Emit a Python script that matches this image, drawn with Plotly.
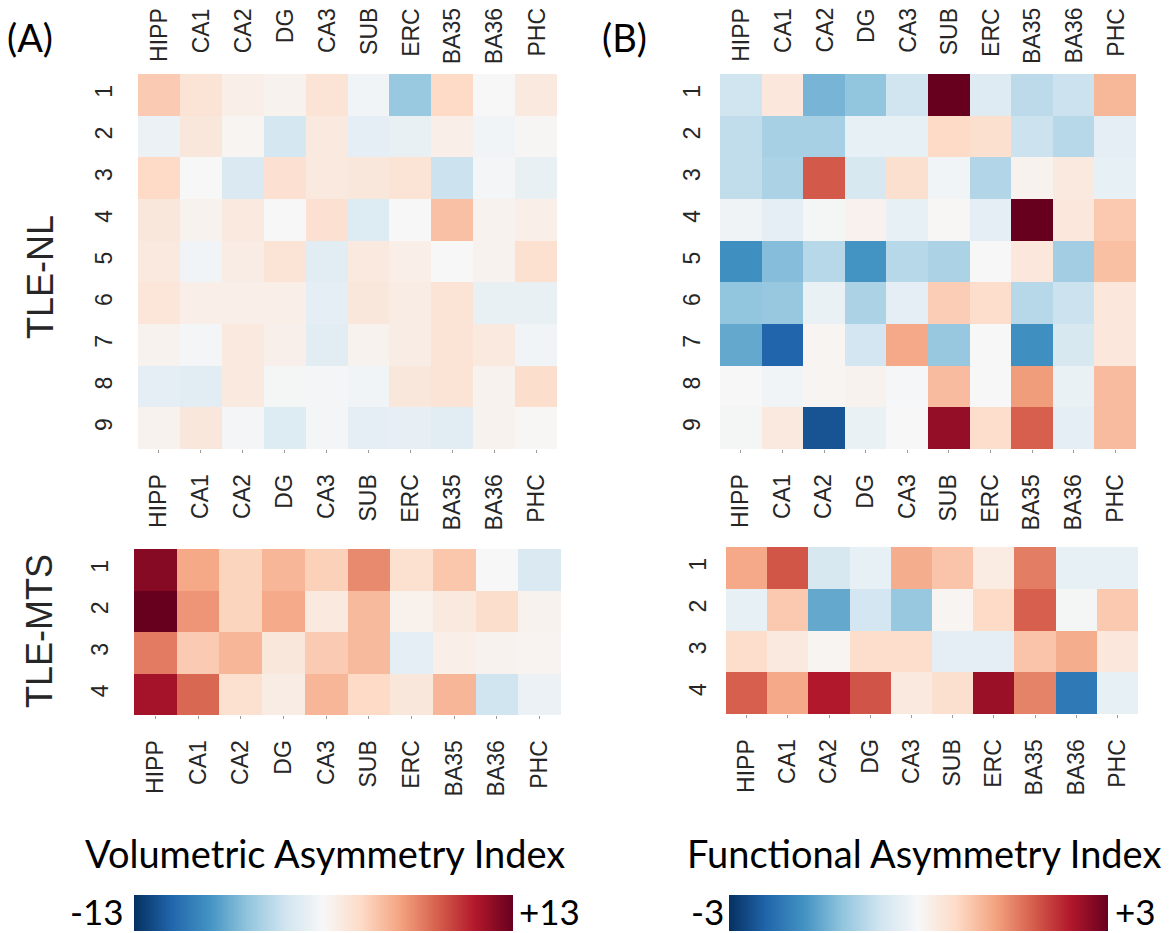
import plotly.graph_objects as go

regions = ["HIPP", "CA1", "CA2", "DG", "CA3", "SUB", "ERC", "BA35", "BA36", "PHC"]
rows_nl = ["1", "2", "3", "4", "5", "6", "7", "8", "9"]
rows_mts = ["1", "2", "3", "4"]

# Volumetric asymmetry index (range -13..+13)
vol_nl = [
    [3.4, 1.8, 0.8, 0.5, 1.8, -0.5, -4.9, 2.6, 0.0, 1.3],
    [-0.8, 1.5, 0.3, -2.3, 1.3, -1.3, -1.0, 0.8, -0.5, 0.2],
    [2.6, 0.0, -2.0, 2.0, 1.3, 1.5, 1.8, -2.8, -0.3, -1.0],
    [1.5, 0.5, 1.3, 0.0, 2.0, -1.8, 0.0, 3.9, 0.5, 0.8],
    [1.3, -0.5, 1.0, 1.8, -1.5, 1.3, 0.8, 0.0, 0.5, 2.1],
    [1.6, 0.8, 0.8, 0.8, -1.3, 1.5, 1.0, 1.8, -1.0, -1.0],
    [0.5, -0.3, 1.3, 0.7, -1.5, 0.5, 1.0, 1.8, 1.3, -0.5],
    [-1.3, -1.5, 1.3, -0.2, -0.3, -0.5, 1.5, 1.8, 0.5, 2.3],
    [0.5, 1.5, -0.3, -1.8, -0.3, -1.3, -1.1, -1.5, 0.5, 0.1],
]
vol_mts = [
    [11.9, 5.0, 2.9, 4.4, 3.1, 6.2, 2.1, 3.6, 0.0, -2.0],
    [13.0, 5.8, 2.9, 4.9, 1.3, 4.2, 0.6, 1.3, 2.3, 0.5],
    [6.8, 3.4, 4.4, 1.5, 3.4, 4.2, -1.3, 0.8, 0.5, 0.4],
    [10.9, 7.5, 2.1, 1.0, 4.4, 2.6, 1.5, 4.4, -2.6, -0.8],
]
# Functional asymmetry index (range -3..+3)
fun_nl = [
    [-0.6, 0.35, -1.4, -1.2, -0.6, 3.0, -0.4, -0.8, -0.65, 1.0],
    [-0.75, -1.0, -1.0, -0.25, -0.25, 0.6, 0.5, -0.65, -0.85, -0.3],
    [-0.75, -0.95, 1.85, -0.5, 0.5, -0.1, -0.9, 0.1, 0.3, -0.25],
    [-0.12, -0.3, -0.05, 0.12, -0.25, 0.03, -0.3, 3.0, 0.35, 0.8],
    [-1.85, -1.3, -0.85, -1.8, -0.85, -0.95, 0.0, 0.35, -1.05, 0.9],
    [-1.2, -1.15, -0.2, -0.95, -0.3, 0.75, 0.55, -0.85, -0.65, 0.35],
    [-1.55, -2.4, 0.06, -0.55, 1.15, -1.15, 0.0, -1.85, -0.5, 0.35],
    [0.0, -0.1, 0.06, 0.1, -0.03, 0.95, 0.0, 1.27, -0.2, 0.95],
    [-0.05, 0.3, -2.6, -0.2, 0.0, 2.65, 0.55, 1.8, -0.3, 0.95],
]
fun_mts = [
    [1.15, 1.88, -0.5, -0.25, 1.1, 0.85, 0.25, 1.55, -0.25, -0.25],
    [-0.25, 0.8, -1.55, -0.55, -1.15, 0.06, 0.6, 1.8, -0.05, 0.8],
    [0.55, 0.3, 0.06, 0.55, 0.55, -0.3, -0.3, 0.85, 1.1, 0.35],
    [1.8, 1.15, 2.4, 1.9, 0.3, 0.5, 2.6, 1.5, -2.15, -0.25],
]
vol_range = [-13, 13]
fun_range = [-3, 3]

W, H = 1173, 933
RDBU_R = [
    [0.0, "rgb(5,48,97)"], [0.1, "rgb(33,102,172)"], [0.2, "rgb(67,147,195)"],
    [0.3, "rgb(146,197,222)"], [0.4, "rgb(209,229,240)"], [0.5, "rgb(247,247,247)"],
    [0.6, "rgb(253,219,199)"], [0.7, "rgb(244,165,130)"], [0.8, "rgb(214,96,77)"],
    [0.9, "rgb(178,24,43)"], [1.0, "rgb(103,0,31)"],
]


def px_x(x):
    return x / W


def px_y(y):
    return 1 - y / H


TICK_FONT = dict(family="Liberation Sans, Arial, sans-serif", size=23, color="#262626")

fig = go.Figure()

panels = [
    # (data, rows, x-domain px, y-domain px, coloraxis, ylabel gap)
    (vol_nl, rows_nl, (138, 557), (74, 449), "coloraxis", 20),
    (fun_nl, rows_nl, (720, 1136), (74, 449), "coloraxis2", 14),
    (vol_mts, rows_mts, (134, 561), (549, 715), "coloraxis", 20),
    (fun_mts, rows_mts, (726, 1138), (547, 714), "coloraxis2", 14),
]

for i, (z, rows, xd, yd, cax, gap) in enumerate(panels):
    n = i + 1
    xa = "x" if n == 1 else f"x{n}"
    ya = "y" if n == 1 else f"y{n}"
    fig.add_trace(go.Heatmap(z=z, x=regions, y=rows, coloraxis=cax,
                             xaxis=xa, yaxis=ya, hoverinfo="skip"))
    xkey = "xaxis" if n == 1 else f"xaxis{n}"
    ykey = "yaxis" if n == 1 else f"yaxis{n}"
    fig.layout[xkey] = dict(
        domain=[px_x(xd[0]), px_x(xd[1])], anchor=ya, type="category",
        tickangle=-90, tickfont=TICK_FONT, ticks="outside", ticklen=3,
        tickcolor="#9a9a9a", tickwidth=1, ticklabelstandoff=12,
        showgrid=False, zeroline=False, showline=False, fixedrange=True,
    )
    fig.layout[ykey] = dict(
        domain=[px_y(yd[1]), px_y(yd[0])], anchor=xa, type="category",
        autorange="reversed", tickangle=-90, tickfont=TICK_FONT, ticks="",
        ticklabelstandoff=gap, showgrid=False, zeroline=False, showline=False,
        fixedrange=True,
    )

annotations = []
# top labels for the TLE-NL heatmaps
for xa in ["x", "x2"]:
    for r in regions:
        annotations.append(dict(x=r, xref=xa, y=px_y(6), yref="paper", text=r,
                                textangle=-90, showarrow=False, xanchor="center",
                                yanchor="top", font=TICK_FONT))

BIG = dict(family="Liberation Sans, Arial, sans-serif", size=36, color="#262626")
LABEL = dict(family="Lato, sans-serif", size=38, color="black")
annotations += [
    dict(x=px_x(40), y=px_y(277), text="TLE-NL", textangle=-90, font=BIG),
    dict(x=px_x(39), y=px_y(631), text="TLE-MTS", textangle=-90, font=BIG),
    dict(x=px_x(30), y=px_y(37), text="(A)", font=LABEL),
    dict(x=px_x(624), y=px_y(37), text="(B)", font=LABEL),
    dict(x=px_x(325), y=px_y(853), text="Volumetric Asymmetry Index", font=LABEL),
    dict(x=px_x(924), y=px_y(853), text="Functional Asymmetry Index", font=LABEL),
    dict(x=px_x(97), y=px_y(911), text="-13", font=dict(LABEL, size=35)),
    dict(x=px_x(549), y=px_y(911), text="+13", font=dict(LABEL, size=35)),
    dict(x=px_x(707), y=px_y(911), text="-3", font=dict(LABEL, size=35)),
    dict(x=px_x(1135), y=px_y(911), text="+3", font=dict(LABEL, size=35)),
]
for a in annotations:
    a.setdefault("xref", "paper")
    a.setdefault("yref", "paper")
    a.setdefault("showarrow", False)
    a.setdefault("xanchor", "center")
    a.setdefault("yanchor", "middle")

def cbar(cx):
    return dict(orientation="h", x=px_x(cx), xanchor="center", xref="paper",
                y=px_y(913), yanchor="middle", yref="paper",
                lenmode="pixels", len=379, thickness=36, thicknessmode="pixels",
                outlinewidth=0, showticklabels=False, ticks="", xpad=0, ypad=0)

fig.update_layout(
    width=W, height=H, autosize=False,
    margin=dict(l=0, r=0, t=0, b=0),
    paper_bgcolor="white", plot_bgcolor="white",
    coloraxis=dict(colorscale=RDBU_R, cmin=vol_range[0], cmax=vol_range[1],
                   colorbar=cbar(324)),
    coloraxis2=dict(colorscale=RDBU_R, cmin=fun_range[0], cmax=fun_range[1],
                    colorbar=cbar(918)),
    annotations=annotations,
    showlegend=False,
)

fig.write_html("out.html", config={"displayModeBar": False},
               post_script="document.body.style.margin='0';")
